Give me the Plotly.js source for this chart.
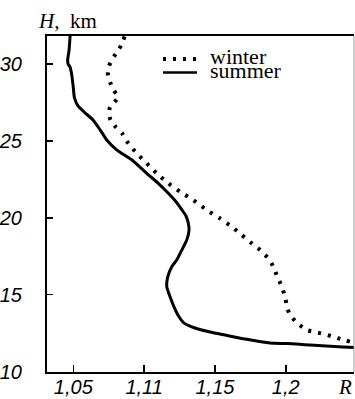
<!DOCTYPE html>
<html>
<head>
<meta charset="utf-8">
<script src="https://cdn.plot.ly/plotly-3.0.1.min.js"></script>
<style>html,body{margin:0;padding:0;background:#fff;}#chart{width:355px;height:399px;}</style>
</head>
<body>
<div id="chart"></div>
<script>
// Summer profile: R value vs height H (km)
const summerR = [1.0477,1.0470,1.0460,1.0463,1.0477,1.0489,1.0500,1.0508,1.0533,1.0576,1.0639,1.0689,1.0736,1.0806,1.0912,1.1018,1.1100,1.1171,1.1225,1.1268,1.1296,1.1312,1.1317,1.1301,1.1266,1.1230,1.1195,1.1167,1.1160,1.1183,1.1211,1.1246,1.1282,1.1359,1.1465,1.1571,1.1713,1.1889,1.2009,1.2172,1.2405,1.2482];
const summerH = [31.82,30.91,30.26,30.00,29.80,29.28,28.44,27.79,27.27,26.88,26.36,25.72,25.06,24.42,23.77,22.89,22.24,21.59,21.04,20.50,20.11,19.64,19.20,18.55,17.90,17.25,16.82,16.17,15.51,14.87,14.21,13.56,13.15,12.83,12.57,12.37,12.11,11.85,11.82,11.72,11.59,11.56];
// Winter profile
const winterR = [1.0862,1.0842,1.0823,1.0798,1.0773,1.0752,1.0744,1.0759,1.0784,1.0816,1.0791,1.0759,1.0752,1.0763,1.0802,1.0844,1.0888,1.0948,1.1018,1.1089,1.1171,1.1254,1.1347,1.1442,1.1536,1.1619,1.1689,1.1760,1.1819,1.1877,1.1910,1.1936,1.1972,1.1995,1.2009,1.2030,1.2089,1.2150,1.2221,1.2278,1.2336,1.2396,1.2454];
const winterH = [31.79,31.30,30.98,30.65,30.26,29.87,29.35,28.83,28.31,27.85,27.53,27.20,26.75,26.36,25.87,25.49,24.84,24.19,23.54,22.89,22.24,21.69,21.15,20.50,19.96,19.42,18.88,18.34,17.90,17.36,16.86,16.28,15.52,14.87,14.21,13.67,13.09,12.70,12.54,12.42,12.26,12.09,11.94];
// Axis ticks
const xTickVals = [1.05, 1.10, 1.15, 1.20];
const xTickText = ["1,05", "1,11", "1,15", "1,2"];
const yTickVals = [10, 15, 20, 25, 30];
const yTickText = ["10", "15", "20", "25", "30"];
const seriesNames = ["winter", "summer"];
const italic = a => a.map(s => '<i>' + s + '</i>');

const traces = [
  {x: winterR, y: winterH, mode: 'lines', name: seriesNames[0],
   line: {color: '#000', width: 4, dash: '3px,7px', shape: 'spline', smoothing: 0.6}},
  {x: summerR, y: summerH, mode: 'lines', name: seriesNames[1],
   line: {color: '#000', width: 3, shape: 'spline', smoothing: 0.6}}
];

const tickFont = {family: 'Liberation Sans', size: 20, color: '#000'};
const serif = 'Liberation Serif';

// helper: pixel -> paper
const L = 47, T = 36, W = 307, H = 336;
const px = v => (v - L) / W;
const py = v => (T + H - v) / H;

const layout = {
  width: 355, height: 399,
  margin: {l: L, r: 355 - L - W, t: T, b: 399 - T - H, pad: 0},
  paper_bgcolor: '#fff', plot_bgcolor: '#fff',
  showlegend: false,
  xaxis: {range: [1.0314, 1.2482], tickmode: 'array', tickvals: xTickVals, ticktext: italic(xTickText),
    ticks: 'inside', ticklen: 7, tickwidth: 1.5, tickcolor: '#000',
    showline: true, linecolor: '#000', linewidth: 2, mirror: true,
    showgrid: false, zeroline: false, tickfont: tickFont, ticklabelstandoff: -4},
  yaxis: {range: [9.97, 31.82], tickmode: 'array', tickvals: yTickVals, ticktext: italic(yTickText),
    ticks: 'inside', ticklen: 6, tickwidth: 1.5, tickcolor: '#000',
    showline: true, linecolor: '#000', linewidth: 2, mirror: false,
    showgrid: false, zeroline: false, tickfont: tickFont, ticklabelstandoff: 19},
  shapes: [
    {type: 'line', xref: 'paper', yref: 'paper', x0: 1, x1: 1, y0: 0, y1: 1, line: {color: '#999', width: 1}},
    {type: 'line', xref: 'paper', yref: 'paper', x0: px(163), x1: px(197), y0: py(59), y1: py(59), line: {color: '#000', width: 4, dash: '3px,7px'}},
    {type: 'line', xref: 'paper', yref: 'paper', x0: px(163), x1: px(197), y0: py(72.5), y1: py(72.5), line: {color: '#000', width: 2.5}}
  ],
  annotations: [
    {xref: 'paper', yref: 'paper', x: px(36), y: py(21), xanchor: 'left', yanchor: 'middle', showarrow: false,
     text: '<i>H,</i>  km', font: {family: serif, size: 21, color: '#000'}},
    {xref: 'paper', yref: 'paper', x: px(208), y: py(56.5), xanchor: 'left', yanchor: 'middle', showarrow: false,
     text: seriesNames[0], font: {family: serif, size: 22, color: '#000'}},
    {xref: 'paper', yref: 'paper', x: px(208), y: py(70.5), xanchor: 'left', yanchor: 'middle', showarrow: false,
     text: seriesNames[1], font: {family: serif, size: 22, color: '#000'}},
    {xref: 'paper', yref: 'paper', x: px(345), y: py(387), xanchor: 'center', yanchor: 'middle', showarrow: false,
     text: '<i>R</i>', font: {family: serif, size: 21, color: '#000'}}
  ]
};

Plotly.newPlot('chart', traces, layout, {staticPlot: true, displayModeBar: false});
</script>
</body>
</html>
